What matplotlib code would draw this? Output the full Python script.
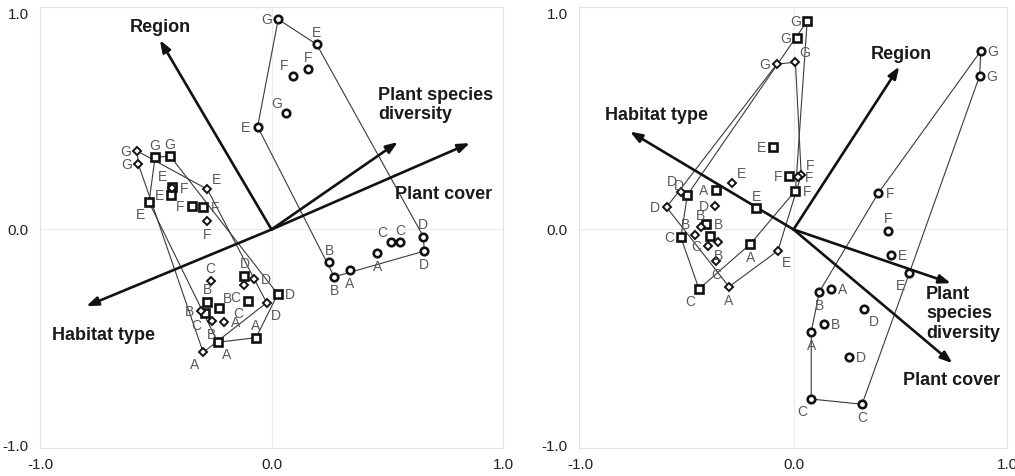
import matplotlib
matplotlib.use('Agg')
import matplotlib.pyplot as plt

plt.rcParams['font.family'] = ['Liberation Sans', 'DejaVu Sans']

# ---------------- LEFT PANEL DATA ----------------
L_circ_lab = ['G', 'E', 'F', 'F', 'G', 'E', 'D', 'D', 'C', 'C', 'A', 'A', 'B', 'B']
L_circ_x = [0.029, 0.195, 0.092, 0.159, 0.063, -0.060, 0.656, 0.660, 0.516, 0.555, 0.457, 0.339, 0.250, 0.271]
L_circ_y = [0.973, 0.857, 0.712, 0.742, 0.538, 0.476, -0.033, -0.100, -0.059, -0.059, -0.110, -0.188, -0.152, -0.219]
L_circ_pos = ['l', 'a', 'al', 'a', 'al', 'l', 'a', 'b', 'al', 'a', 'b', 'b', 'a', 'b']

L_sq_lab = ['G', 'G', 'E', 'E', 'E', 'F', 'F', 'B', 'B', 'C', 'D', 'C', 'D', 'A', 'A']
L_sq_x = [-0.503, -0.438, -0.431, -0.434, -0.529, -0.345, -0.295, -0.277, -0.227, -0.287, -0.117, -0.103, 0.027, -0.232, -0.067]
L_sq_y = [0.334, 0.340, 0.198, 0.160, 0.126, 0.109, 0.106, -0.334, -0.365, -0.388, -0.215, -0.330, -0.299, -0.522, -0.501]
L_sq_pos = ['a', 'a', 'al', 'l', 'bl', 'l', 'r', 'a', 'ar', 'bl', 'a', 'bl', 'r', 'br', 'a']

L_dia_lab = ['G', 'G', 'E', 'F', 'F', 'C', 'B', 'B', 'A', 'A', 'D', 'C', 'D']
L_dia_x = [-0.580, -0.575, -0.277, -0.428, -0.280, -0.263, -0.305, -0.258, -0.204, -0.295, -0.076, -0.119, -0.021]
L_dia_y = [0.363, 0.302, 0.186, 0.192, 0.041, -0.238, -0.376, -0.422, -0.430, -0.569, -0.229, -0.257, -0.339]
L_dia_pos = ['l', 'l', 'ar', 'r', 'b', 'a', 'l', 'b', 'r', 'bl', 'r', 'bl', 'br']

L_arrow_names = ['Region', 'Plant species\ndiversity', 'Plant cover', 'Habitat type']
L_arrow_x = [-0.482, 0.546, 0.857, -0.800]
L_arrow_y = [0.877, 0.405, 0.400, -0.355]

# ---------------- RIGHT PANEL DATA ----------------
R_circ_lab = ['G', 'G', 'F', 'F', 'E', 'E', 'A', 'B', 'D', 'B', 'A', 'D', 'C', 'C']
R_circ_x = [0.877, 0.872, 0.397, 0.444, 0.457, 0.542, 0.176, 0.121, 0.332, 0.142, 0.083, 0.262, 0.083, 0.321]
R_circ_y = [0.826, 0.712, 0.168, -0.007, -0.118, -0.203, -0.277, -0.288, -0.368, -0.439, -0.473, -0.589, -0.785, -0.809]
R_circ_pos = ['r', 'r', 'r', 'a', 'r', 'bl', 'r', 'b', 'br', 'r', 'b', 'r', 'bl', 'b']

R_sq_lab = ['G', 'G', 'E', 'F', 'F', 'E', 'A', 'D', 'B', 'C', 'B', 'A', 'C']
R_sq_x = [0.064, 0.017, -0.097, -0.019, 0.009, -0.174, -0.364, -0.497, -0.408, -0.528, -0.393, -0.202, -0.443]
R_sq_y = [0.965, 0.885, 0.383, 0.248, 0.180, 0.098, 0.183, 0.160, 0.024, -0.036, -0.030, -0.067, -0.275]
R_sq_pos = ['l', 'l', 'l', 'l', 'r', 'a', 'l', 'al', 'r', 'l', '', 'b', 'bl']

R_dia_lab = ['G', 'G', 'F', 'F', 'E', 'D', 'D', 'D', 'B', 'B', 'B', 'C', 'C', 'E', 'A']
R_dia_x = [-0.078, 0.009, 0.036, 0.019, -0.287, -0.528, -0.595, -0.367, -0.435, -0.463, -0.352, -0.400, -0.361, -0.073, -0.302]
R_dia_y = [0.766, 0.774, 0.252, 0.243, 0.214, 0.175, 0.103, 0.109, 0.010, -0.025, -0.056, -0.076, -0.144, -0.098, -0.265]
R_dia_pos = ['l', 'ar', 'ar', 'r', 'ar', 'al', 'l', 'l', 'a', 'al', 'b', 'l', 'b', 'br', 'b']

R_arrow_names = ['Region', 'Habitat type', 'Plant\nspecies\ndiversity', 'Plant cover']
R_arrow_x = [0.495, -0.766, 0.737, 0.744]
R_arrow_y = [0.754, 0.453, -0.249, -0.619]

ticks = [-1.0, 0.0, 1.0]
tick_labels = ['-1.0', '0.0', '1.0']

# label anchor positions of arrow names (data coords) and alignment
L_name_pos = [(-0.48, 0.935, 'center'), (0.46, 0.577, 'left'), (0.533, 0.160, 'left'), (-0.948, -0.493, 'left')]
R_name_pos = [(0.503, 0.808, 'center'), (-0.883, 0.530, 'left'), (0.620, -0.391, 'left'), (0.515, -0.697, 'left')]

OFF = {'l': (-8.5, 0), 'r': (8.5, 0), 'a': (0, 9), 'b': (0, -9.5),
       'al': (-6.5, 7.5), 'ar': (6.5, 7.5), 'bl': (-6.5, -8.5), 'br': (6.5, -8.5)}


def hull(xs, ys):
    pts = sorted(set(zip(xs, ys)))

    def cross(o, a, b):
        return (a[0] - o[0]) * (b[1] - o[1]) - (a[1] - o[1]) * (b[0] - o[0])
    lower = []
    for p in pts:
        while len(lower) >= 2 and cross(lower[-2], lower[-1], p) <= 0:
            lower.pop()
        lower.append(p)
    upper = []
    for p in reversed(pts):
        while len(upper) >= 2 and cross(upper[-2], upper[-1], p) <= 0:
            upper.pop()
        upper.append(p)
    h = lower[:-1] + upper[:-1]
    h.append(h[0])
    return [p[0] for p in h], [p[1] for p in h]


def draw_group(ax, xs, ys, labs, pos, marker, ms, mew):
    hx, hy = hull(xs, ys)
    ax.plot(hx, hy, color='#3a3a3a', lw=0.8, zorder=1)
    ax.plot(xs, ys, linestyle='none', marker=marker, ms=ms, mew=mew,
            mfc='white', mec='#111111', zorder=3)
    for x, y, lab, p in zip(xs, ys, labs, pos):
        if not p:
            continue
        dx, dy = OFF[p]
        ax.annotate(lab, (x, y), xytext=(dx, dy - 3.6), textcoords='offset points',
                    ha='center', va='baseline', fontsize=10, color='#5a5a5a', zorder=4)


def draw_arrows(ax, xs, ys, names, npos):
    for x, y in zip(xs, ys):
        ax.annotate('', xy=(x, y), xytext=(0, 0),
                    arrowprops=dict(arrowstyle='-|>,head_length=0.7,head_width=0.26',
                                    lw=1.9, color='#111111', shrinkA=0, shrinkB=0,
                                    mutation_scale=10), zorder=2)
    for name, (px, py, ha) in zip(names, npos):
        ax.text(px, py, name, ha=ha, va='center', fontsize=13, fontweight='bold',
                color='#1a1a1a', linespacing=1.2, zorder=5)


def style(ax, xlim):
    ax.set_xlim(*xlim)
    ax.set_ylim(-1.0116, 1.030)
    ax.set_xticks(ticks)
    ax.set_xticklabels(tick_labels)
    ax.set_yticks(ticks)
    ax.set_yticklabels(tick_labels)
    ax.tick_params(length=0, labelsize=11, colors='#222222')
    ax.tick_params(axis='y', pad=8)
    ax.tick_params(axis='x', pad=7)
    for s in ax.spines.values():
        s.set_color('#e2e2e2')
        s.set_linewidth(0.8)
    ax.axhline(0, color='#ececec', lw=0.8, zorder=0)
    ax.axvline(0, color='#ececec', lw=0.8, zorder=0)


fig = plt.figure(figsize=(10.15, 4.76), dpi=100)
axL = fig.add_axes([40 / 1015, 28 / 476, 463 / 1015, 441 / 476])
axR = fig.add_axes([579 / 1015, 28 / 476, 428 / 1015, 441 / 476])

style(axL, (-1.0, 1.0))
style(axR, (-1.005, 0.995))

draw_group(axL, L_circ_x, L_circ_y, L_circ_lab, L_circ_pos, 'o', 5.4, 1.9)
draw_group(axL, L_sq_x, L_sq_y, L_sq_lab, L_sq_pos, 's', 5.4, 1.9)
draw_group(axL, L_dia_x, L_dia_y, L_dia_lab, L_dia_pos, 'D', 3.9, 1.4)
draw_arrows(axL, L_arrow_x, L_arrow_y, L_arrow_names, L_name_pos)

draw_group(axR, R_circ_x, R_circ_y, R_circ_lab, R_circ_pos, 'o', 5.4, 1.9)
draw_group(axR, R_sq_x, R_sq_y, R_sq_lab, R_sq_pos, 's', 5.4, 1.9)
draw_group(axR, R_dia_x, R_dia_y, R_dia_lab, R_dia_pos, 'D', 3.9, 1.4)
draw_arrows(axR, R_arrow_x, R_arrow_y, R_arrow_names, R_name_pos)

fig.savefig('out.png', dpi=100)
